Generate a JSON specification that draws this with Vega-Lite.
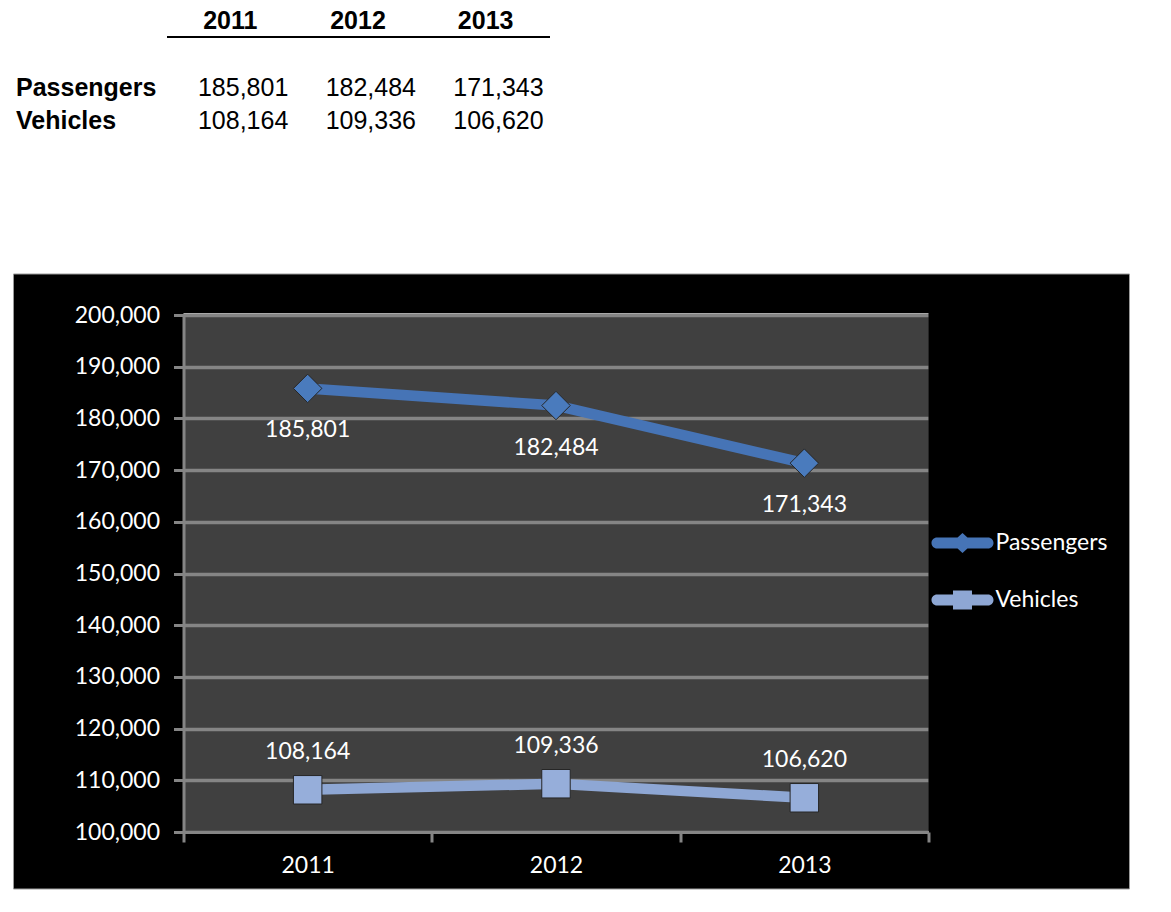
{
  "$schema": "https://vega.github.io/schema/vega-lite/v6.json",
  "background": "white",
  "padding": {"left": 11.5, "top": 8, "right": 0, "bottom": 0},
  "config": {"view": {"stroke": null}, "font": "Lato"},
  "data": {"values": [
    {"series": "Passengers", "year": 2011, "value": 185801},
    {"series": "Passengers", "year": 2012, "value": 182484},
    {"series": "Passengers", "year": 2013, "value": 171343},
    {"series": "Vehicles", "year": 2011, "value": 108164},
    {"series": "Vehicles", "year": 2012, "value": 109336},
    {"series": "Vehicles", "year": 2013, "value": 106620}
  ]},
  "spacing": 136,
  "vconcat": [
    {
      "width": 383,
      "height": 66,
      "view": {"stroke": null, "fill": null},
      "mark": {"type": "text", "align": "right", "dx": 58, "font": "Liberation Sans", "fontSize": 25, "color": "black", "baseline": "middle"},
      "encoding": {
        "x": {"field": "year", "type": "ordinal", "scale": {"type": "band", "paddingInner": 0, "paddingOuter": 0, "range": [-17, 366]},
          "axis": {"orient": "top", "offset": 34.5, "title": null, "ticks": false, "tickSize": 0, "labelPadding": 8, "labelBaseline": "alphabetic", "labelFont": "Liberation Sans", "labelFontSize": 25, "labelFontWeight": "bold", "labelColor": "black", "labelAngle": 0, "domainColor": "black", "domainWidth": 2}},
        "y": {"field": "series", "type": "nominal", "scale": {"type": "band", "paddingInner": 0, "paddingOuter": 0},
          "axis": {"title": null, "ticks": false, "tickSize": 0, "domain": false, "labelAlign": "left", "labelPadding": 168, "labelFont": "Liberation Sans", "labelFontSize": 25, "labelFontWeight": "bold", "labelColor": "black", "labelLimit": 300}},
        "text": {"field": "value", "format": ","}
      }
    },
    {
      "width": 745,
      "height": 517,
      "view": {"fill": "#404040", "stroke": "#5a5a5a", "strokeWidth": 1},
      "resolve": {"axis": {"x": "independent", "y": "independent"}},
      "layer": [
        {
          "data": {"values": [{}]},
          "mark": {"type": "rect", "color": "black", "clip": false},
          "encoding": {
            "x": {"datum": 2009.8154, "type": "quantitative", "scale": {"domain": [2010.5, 2013.5], "nice": false, "zero": false}, "axis": null},
            "x2": {"datum": 2014.3094},
            "y": {"datum": 200330, "type": "quantitative", "scale": {"domain": [100000, 200000], "nice": false, "zero": false}, "axis": null},
            "y2": {"datum": 207930}
          }
        },
        {
          "data": {"values": [{}]},
          "mark": {"type": "rect", "color": "black", "clip": false},
          "encoding": {
            "x": {"datum": 2009.8154, "type": "quantitative", "scale": {"domain": [2010.5, 2013.5], "nice": false, "zero": false}, "axis": null},
            "x2": {"datum": 2014.3094},
            "y": {"datum": 88975, "type": "quantitative", "scale": {"domain": [100000, 200000], "nice": false, "zero": false}, "axis": null},
            "y2": {"datum": 100000}
          }
        },
        {
          "data": {"values": [{}]},
          "mark": {"type": "rect", "color": "black", "clip": false},
          "encoding": {
            "x": {"datum": 2009.8154, "type": "quantitative", "scale": {"domain": [2010.5, 2013.5], "nice": false, "zero": false}, "axis": null},
            "x2": {"datum": 2010.5},
            "y": {"datum": 99000, "type": "quantitative", "scale": {"domain": [100000, 200000], "nice": false, "zero": false}, "axis": null},
            "y2": {"datum": 201000}
          }
        },
        {
          "data": {"values": [{}]},
          "mark": {"type": "rect", "color": "black", "clip": false},
          "encoding": {
            "x": {"datum": 2013.5, "type": "quantitative", "scale": {"domain": [2010.5, 2013.5], "nice": false, "zero": false}, "axis": null},
            "x2": {"datum": 2014.3094},
            "y": {"datum": 99000, "type": "quantitative", "scale": {"domain": [100000, 200000], "nice": false, "zero": false}, "axis": null},
            "y2": {"datum": 201000}
          }
        },
        {
          "data": {"values": [{}]},
          "mark": {"type": "rect", "filled": false, "stroke": "#9a9a9a", "strokeWidth": 1, "fill": null, "clip": false},
          "encoding": {
            "x": {"datum": 2009.8154, "type": "quantitative", "scale": {"domain": [2010.5, 2013.5], "nice": false, "zero": false}, "axis": null},
            "x2": {"datum": 2014.3094},
            "y": {"datum": 88975, "type": "quantitative", "scale": {"domain": [100000, 200000], "nice": false, "zero": false}, "axis": null},
            "y2": {"datum": 207930}
          }
        },
        {
          "mark": {"type": "line", "strokeWidth": 10.5, "strokeCap": "butt"},
          "encoding": {
            "x": {"field": "year", "type": "quantitative", "scale": {"domain": [2010.5, 2013.5], "nice": false, "zero": false},
              "axis": {"orient": "bottom", "values": [2010.5, 2011.5, 2012.5, 2013.5], "labelExpr": "datum.value < 2013 ? '' + (floor(datum.value) + 1) : ''", "labelOffset": 124.2, "tickSize": 10, "tickWidth": 3, "tickColor": "#858585", "domainColor": "#858585", "domainWidth": 3, "labelPadding": 12, "labelFont": "Lato", "labelFontSize": 23, "labelColor": "white", "title": null, "zindex": 1, "labelFlush": false, "labelOverlap": false, "labelBound": false, "grid": false}},
            "y": {"field": "value", "type": "quantitative", "scale": {"domain": [100000, 200000], "nice": false, "zero": false},
              "axis": {"orient": "left", "grid": false, "values": [100000, 110000, 120000, 130000, 140000, 150000, 160000, 170000, 180000, 190000, 200000], "labelExpr": "format(datum.value, ',')", "labelFont": "Lato", "labelFontSize": 23, "labelColor": "white", "labelPadding": 14, "tickSize": 10, "tickWidth": 3, "tickColor": "#858585", "domainColor": "#858585", "domainWidth": 3, "title": null, "zindex": 1, "labelFlush": false, "labelOverlap": false}},
            "stroke": {"field": "series", "type": "nominal", "scale": {"range": ["#4674B6", "#8EA7D4"]}, "legend": null}
          }
        },
        {
          "transform": [{"filter": "datum.series === 'Passengers'"}],
          "mark": {"type": "point", "shape": "diamond", "filled": true, "opacity": 1, "size": 810, "color": "#4A7BBD", "stroke": "#262626", "strokeWidth": 1},
          "encoding": {
            "x": {"field": "year", "type": "quantitative", "scale": {"domain": [2010.5, 2013.5], "nice": false, "zero": false}, "axis": null},
            "y": {"field": "value", "type": "quantitative", "scale": {"domain": [100000, 200000], "nice": false, "zero": false},
              "axis": {"orient": "left", "grid": true, "gridColor": "#858585", "gridWidth": 3.5, "values": [100000, 110000, 120000, 130000, 140000, 150000, 160000, 170000, 180000, 190000, 200000], "labels": false, "ticks": false, "domain": false, "title": null, "zindex": 0}}
          }
        },
        {
          "transform": [{"filter": "datum.series === 'Vehicles'"}],
          "mark": {"type": "point", "shape": "square", "filled": true, "opacity": 1, "size": 810, "color": "#96AEDA", "stroke": "#262626", "strokeWidth": 1},
          "encoding": {
            "x": {"field": "year", "type": "quantitative", "scale": {"domain": [2010.5, 2013.5], "nice": false, "zero": false}, "axis": null},
            "y": {"field": "value", "type": "quantitative", "scale": {"domain": [100000, 200000], "nice": false, "zero": false}, "axis": null}
          }
        },
        {
          "mark": {"type": "point", "filled": true, "opacity": 0, "size": 10},
          "encoding": {
            "x": {"field": "year", "type": "quantitative", "scale": {"domain": [2010.5, 2013.5], "nice": false, "zero": false}, "axis": null},
            "y": {"field": "value", "type": "quantitative", "scale": {"domain": [100000, 200000], "nice": false, "zero": false}, "axis": null},
            "color": {"field": "series", "type": "nominal", "scale": {"domain": ["Passengers", "Vehicles"], "range": ["#4674B6", "#8EA7D4"]},
              "legend": {"orient": "none", "legendX": 750.5, "legendY": 443.5, "title": null, "padding": 0, "symbolSize": 3249, "symbolStrokeWidth": 0, "labelOffset": 4.5, "labelFont": "Lato", "labelFontSize": 23, "labelColor": "white", "rowPadding": 16, "zindex": 1, "symbolOpacity": 1}},
            "shape": {"field": "series", "type": "nominal", "scale": {"domain": ["Passengers", "Vehicles"], "range": [
                "M-0.895,-0.193 L0.895,-0.193 A0.193,0.193 0 0 1 0.895,0.193 L-0.895,0.193 A0.193,0.193 0 0 1 -0.895,-0.193 Z M0,-0.351 L0.386,0 L0,0.351 L-0.386,0 Z",
                "M-0.895,-0.193 L0.895,-0.193 A0.193,0.193 0 0 1 0.895,0.193 L-0.895,0.193 A0.193,0.193 0 0 1 -0.895,-0.193 Z M-0.333,-0.333 L0.333,-0.333 L0.333,0.333 L-0.333,0.333 Z"]},
              "legend": {"orient": "none", "legendX": 750.5, "legendY": 443.5, "title": null, "padding": 0, "symbolSize": 3249, "symbolStrokeWidth": 0, "labelOffset": 4.5, "labelFont": "Lato", "labelFontSize": 23, "labelColor": "white", "rowPadding": 16, "zindex": 1, "symbolOpacity": 1}}
          }
        },
        {
          "transform": [{"filter": "datum.series === 'Passengers'"}],
          "mark": {"type": "text", "dy": 42, "font": "Lato", "fontSize": 23, "color": "white", "baseline": "middle"},
          "encoding": {
            "x": {"field": "year", "type": "quantitative", "scale": {"domain": [2010.5, 2013.5], "nice": false, "zero": false}, "axis": null},
            "y": {"field": "value", "type": "quantitative", "scale": {"domain": [100000, 200000], "nice": false, "zero": false}, "axis": null},
            "text": {"field": "value", "format": ","}
          }
        },
        {
          "transform": [{"filter": "datum.series === 'Vehicles'"}],
          "mark": {"type": "text", "dy": -38, "font": "Lato", "fontSize": 23, "color": "white", "baseline": "middle"},
          "encoding": {
            "x": {"field": "year", "type": "quantitative", "scale": {"domain": [2010.5, 2013.5], "nice": false, "zero": false}, "axis": null},
            "y": {"field": "value", "type": "quantitative", "scale": {"domain": [100000, 200000], "nice": false, "zero": false}, "axis": null},
            "text": {"field": "value", "format": ","}
          }
        }
      ]
    }
  ]
}
